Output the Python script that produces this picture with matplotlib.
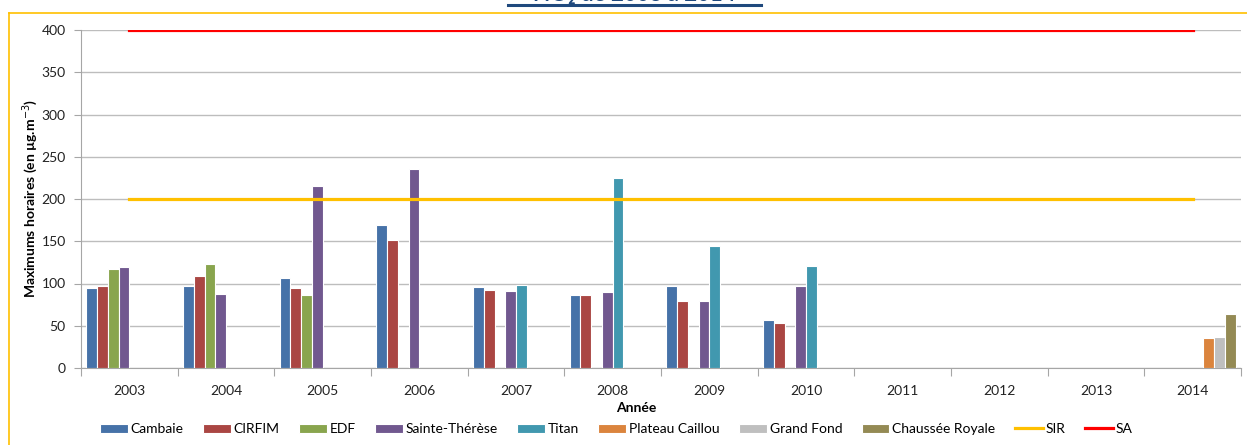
# -*- coding: utf-8 -*-
"""
Maximums horaires de NO2 par station, 2003 - 2014
"""

import numpy as np
import matplotlib.pyplot as plt
from matplotlib.lines import Line2D

plt.rcParams['font.family'] = ['Lato', 'DejaVu Sans']

#===================== data ===================================================

years = ['2003', '2004', '2005', '2006', '2007', '2008',
         '2009', '2010', '2011', '2012', '2013', '2014']
nan = np.nan

cambaie         = [95, 97, 106, 169, 96, 86, 97, 57, nan, nan, nan, nan]
cirfim          = [97, 109, 95, 152, 92, 86, 79, 53, nan, nan, nan, nan]
edf             = [117, 123, 86, nan, nan, nan, nan, nan, nan, nan, nan, nan]
sainte_therese  = [119, 88, 215, 236, 91, 90, 79, 97, nan, nan, nan, nan]
titan           = [nan, nan, nan, nan, 98, 225, 144, 121, nan, nan, nan, nan]
plateau_caillou = [nan, nan, nan, nan, nan, nan, nan, nan, nan, nan, nan, 36]
grand_fond      = [nan, nan, nan, nan, nan, nan, nan, nan, nan, nan, nan, 37]
chaussee_royale = [nan, nan, nan, nan, nan, nan, nan, nan, nan, nan, nan, 64]

sir = [200] * len(years)   # seuil d'information
sa = [400] * len(years)    # seuil d'alerte

stations = ['Cambaie', 'CIRFIM', 'EDF', 'Sainte-Thérèse', 'Titan',
            'Plateau Caillou', 'Grand Fond', 'Chaussée Royale']
values = [cambaie, cirfim, edf, sainte_therese, titan,
          plateau_caillou, grand_fond, chaussee_royale]
colors = ['#4672A8', '#AA4643', '#89A54E', '#71588F', '#4198AF',
          '#DB843D', '#BFBFBF', '#948A54']

#===================== plot ===================================================

fig = plt.figure(figsize=(12.47, 4.45), dpi=100)
ax = fig.add_axes([81/1247, 1 - 368/445, 1160/1247, 338/445])

x = np.arange(len(years))
width = 1/9
handles = []
for i, (name, vals, col) in enumerate(zip(stations, values, colors)):
    b = ax.bar(x + (i - 3.5)*width, vals, width, color=col,
               edgecolor='white', linewidth=0.8, label=name, zorder=3)
    handles.append(b)

l1, = ax.plot(x, sir, color='#FFC000', lw=2.3, label='SIR', zorder=4)
l2, = ax.plot(x, sa, color='#FF0000', lw=2.3, label='SA', zorder=4)
handles += [l1, l2]

# axes and ticks
ax.set_xlim(-0.5, len(years) - 0.5)
ax.set_ylim(0, 400)
ax.set_yticks(np.arange(0, 401, 50))
ax.set_xticks(np.arange(-0.5, len(years)), labels=[])
ax.set_xticks(x, labels=years, minor=True)
ax.tick_params(axis='x', which='major', length=6, color='#A6A6A6')
ax.tick_params(axis='x', which='minor', length=0, pad=12,
               labelsize=10, labelcolor='#222222')
ax.tick_params(axis='y', length=5, color='#A6A6A6', pad=6,
               labelsize=10, labelcolor='#222222')
ax.grid(axis='y', color='#BDBDBD', lw=1, zorder=0)
for s in ['top', 'right']:
    ax.spines[s].set_visible(False)
for s in ['left', 'bottom']:
    ax.spines[s].set_color('#A6A6A6')

fig.text(30/1247, 1 - 199/445, 'Maximums horaires (en µg.m$^{-3}$)',
         rotation=90, ha='center', va='center', fontsize=10,
         weight='bold')
fig.text(636/1247, 1 - 408/445, 'Année', ha='center', va='center',
         fontsize=10, weight='bold')

fig.legend(handles=handles, labels=stations + ['SIR', 'SA'], ncol=10,
           loc='center', bbox_to_anchor=(616/1247, 1 - 429/445),
           frameon=False, fontsize=10, handlelength=2.0, handleheight=0.6,
           handletextpad=0.2, columnspacing=1.4)

# title (running off the top of the page) and its underline
fig.text(634.5/1247, 1 - 1.5/445, 'NO₂ de 2003 à 2014', ha='center',
         va='baseline', fontsize=16, weight='bold', color='#1F497D')
fig.add_artist(Line2D([508/1247, 761/1247], [1 - 5.3/445, 1 - 5.3/445],
                      color='#1F497D', lw=2.2))

# gold frame around the chart area
fig.add_artist(Line2D([9/1247, 1], [1 - 12.5/445, 1 - 12.5/445],
                      color='#FFC000', lw=1.2))
fig.add_artist(Line2D([9/1247, 9/1247], [0, 1 - 12.5/445],
                      color='#FFC000', lw=1.2))

plt.savefig('out.png', dpi=100)
